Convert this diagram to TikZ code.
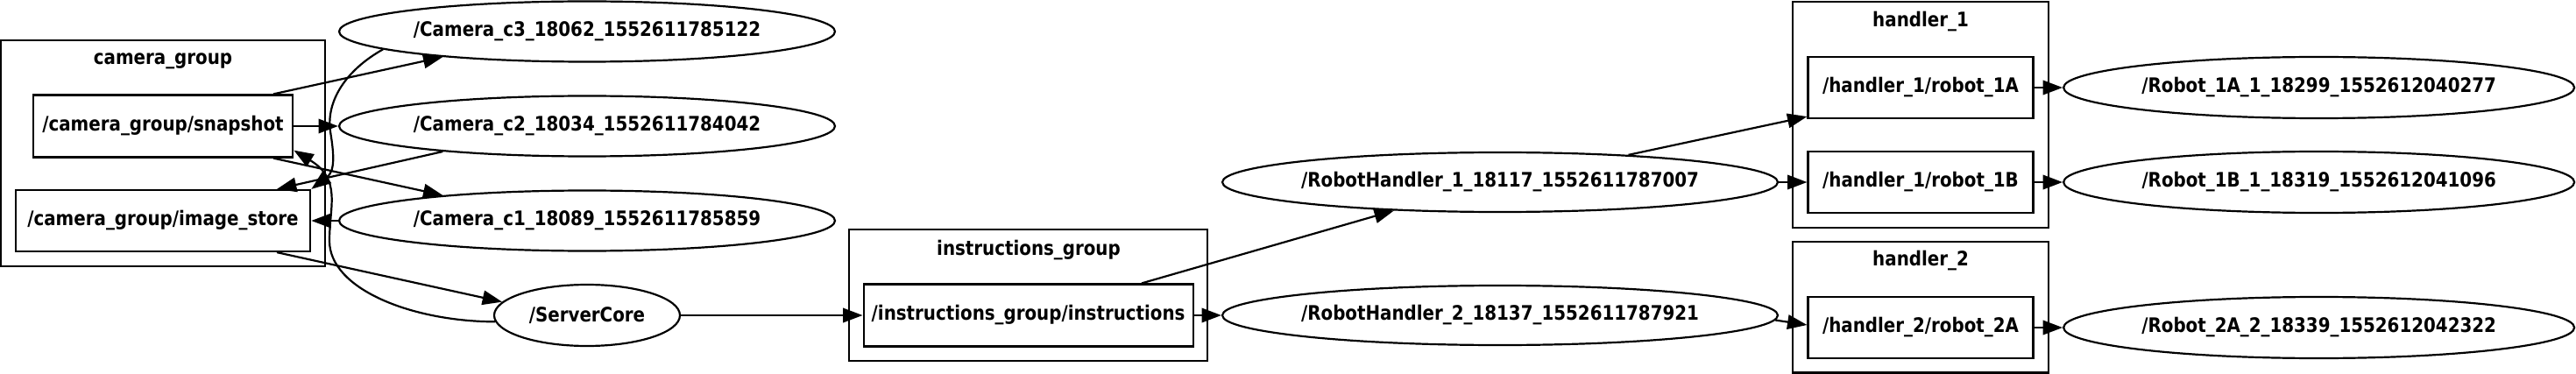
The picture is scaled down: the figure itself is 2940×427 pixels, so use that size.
\documentclass[tikz,border=0pt]{standalone}
\usepackage{fontspec}
\setmainfont{DejaVu Sans}[FakeStretch=0.87]
\usetikzlibrary{shapes.geometric,arrows.meta,calc}
\newdimen\pxu \pxu=0.25pt
\newcommand\diagfont{\fontsize{5.7pt}{6.8pt}\selectfont\bfseries}
\tikzset{
  base/.style={line width=0.55pt},
  topicbox/.style={draw, rectangle, base, inner sep=0pt, font=\diagfont},
  nodeell/.style={draw, ellipse, base, inner sep=0pt, font=\diagfont},
  cluster/.style={draw, rectangle, base, inner sep=0pt},
  clabel/.style={inner sep=0pt, font=\diagfont},
  edge/.style={base, -{Triangle[length=5.6pt,width=4.1pt]}},
}
\begin{document}
\begin{tikzpicture}[x=0.25pt,y=-0.25pt]
\useasboundingbox (0,0) rectangle (2940,427);
% clusters
\node[cluster, minimum width=369.6\pxu, minimum height=258\pxu] (camg) at (185.8,175) {};
\node[clabel] (camgl) at (186,70) {camera\_group};
\node[cluster, minimum width=409\pxu, minimum height=150\pxu] (instg) at (1173.5,337) {};
\node[clabel] (instgl) at (1174,286) {instructions\_group};
\node[cluster, minimum width=292\pxu, minimum height=258\pxu] (h1g) at (2192,131) {};
\node[clabel] (h1gl) at (2192,25) {handler\_1};
\node[cluster, minimum width=292\pxu, minimum height=149.5\pxu] (h2g) at (2192,350.75) {};
\node[clabel] (h2gl) at (2192,298) {handler\_2};
% topic boxes
\node[topicbox, minimum width=296.5\pxu, minimum height=71\pxu] (snap) at (186,144) {/camera\_group/snapshot};
\node[topicbox, minimum width=336.5\pxu, minimum height=70\pxu] (img) at (186,252) {/camera\_group/image\_store};
\node[topicbox, minimum width=376\pxu, minimum height=71\pxu] (inst) at (1173.6,360) {/instructions\_group/instructions};
\node[topicbox, minimum width=257\pxu, minimum height=70\pxu] (r1a) at (2192,100) {/handler\_1/robot\_1A};
\node[topicbox, minimum width=257\pxu, minimum height=70\pxu] (r1b) at (2192,208) {/handler\_1/robot\_1B};
\node[topicbox, minimum width=257\pxu, minimum height=70\pxu] (r2a) at (2192,374) {/handler\_2/robot\_2A};
% ellipses
\node[nodeell, minimum width=566\pxu, minimum height=69\pxu] (c3) at (670,36) {\makebox[0pt]{/Camera\_c3\_18062\_1552611785122}};
\node[nodeell, minimum width=566\pxu, minimum height=69\pxu] (c2) at (670,144) {\makebox[0pt]{/Camera\_c2\_18034\_1552611784042}};
\node[nodeell, minimum width=566\pxu, minimum height=69\pxu] (c1) at (670,252) {\makebox[0pt]{/Camera\_c1\_18089\_1552611785859}};
\node[nodeell, minimum width=212\pxu, minimum height=70\pxu] (sc) at (670,360) {\makebox[0pt]{/ServerCore}};
\node[nodeell, minimum width=634\pxu, minimum height=68\pxu] (rh1) at (1712,208) {\makebox[0pt]{/RobotHandler\_1\_18117\_1552611787007}};
\node[nodeell, minimum width=634\pxu, minimum height=68\pxu] (rh2) at (1712,360) {\makebox[0pt]{/RobotHandler\_2\_18137\_1552611787921}};
\node[nodeell, minimum width=583\pxu, minimum height=70\pxu] (R1A) at (2646.6,100) {\makebox[0pt]{/Robot\_1A\_1\_18299\_1552612040277}};
\node[nodeell, minimum width=583\pxu, minimum height=70\pxu] (R1B) at (2646.6,208) {\makebox[0pt]{/Robot\_1B\_1\_18319\_1552612041096}};
\node[nodeell, minimum width=583\pxu, minimum height=70\pxu] (R2A) at (2646.6,374) {\makebox[0pt]{/Robot\_2A\_2\_18339\_1552612042322}};
% edges
\draw[edge] ($(snap.north)+(126,0)$) -- (c3.190);
\draw[edge] (snap.east) -- (c2.west);
\draw[edge] ($(snap.south)+(126,0)$) -- (c1.170);
\draw[edge] (c2.190) -- ($(img.north)+(130,0)$);
\draw[edge] (c1.west) -- (img.east);
\draw[edge] ($(img.south)+(130,0)$) -- (sc.171);
\draw[edge] (c3.185) .. controls (395,80) and (372,115) .. (377,150) .. controls (381,175) and (383,195) .. (img.north east);
\draw[edge] (sc.184) .. controls (470,367) and (376,330) .. (376,275) .. controls (376,235) and (390,205) .. ($(snap.south east)+(0,-9)$);
\draw[edge] (sc.east) -- (inst.west);
\draw[edge] ($(inst.north)+(129.4,0)$) -- (rh1.195);
\draw[edge] (inst.east) -- (rh2.west);
\draw[edge] (rh1.12) -- ($(r1a.south west)+(0,-3)$);
\draw[edge] (rh1.east) -- (r1b.west);
\draw[edge] (rh2.359) -- ($(r2a.west)+(0,-3)$);
\draw[edge] (r1a.east) -- (R1A.west);
\draw[edge] (r1b.east) -- (R1B.west);
\draw[edge] (r2a.east) -- (R2A.west);
\end{tikzpicture}
\end{document}
